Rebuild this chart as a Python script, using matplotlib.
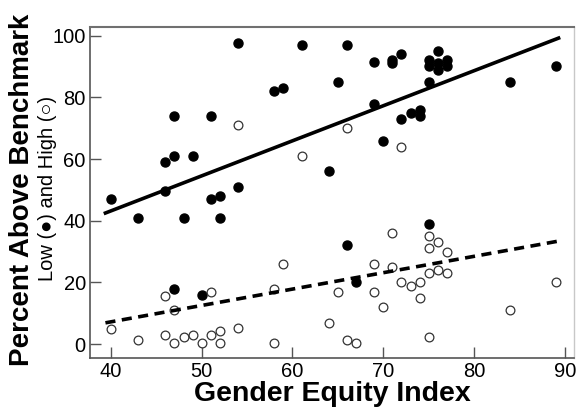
import matplotlib
matplotlib.use('Agg')
import matplotlib.pyplot as plt

# Low (filled) schools: gender equity index vs percent above benchmark
low_gei = [54, 47, 51, 46, 47, 49, 54, 40, 46, 51, 52, 43, 48, 52, 47, 50,
           61, 66, 69, 71, 71, 72, 58, 59, 65, 69, 72, 73, 74, 74, 70, 64,
           76, 75, 75, 76, 76, 77, 77, 75, 84, 89, 66, 67, 75]
low_pct = [97.5, 74, 74, 59, 61, 61, 51, 47, 49.5, 47, 48, 41, 41, 41, 18, 16,
           97, 97, 91.5, 92, 91, 94, 82, 83, 85, 78, 73, 75, 76, 74, 66, 56,
           95, 92, 90, 91, 89, 92, 90, 85, 85, 90, 32, 20, 39]

# High (open) schools
high_gei = [54, 66, 72, 61, 46, 51, 47, 40, 43, 46, 47, 48, 49, 50, 51, 52,
            52, 54, 58, 58, 59, 65, 64, 66, 67, 69, 69, 70, 71, 71, 72, 73,
            74, 74, 75, 75, 76, 77, 75, 76, 77, 75, 84, 89]
high_pct = [71, 70, 64, 61, 15.5, 17, 11, 5, 1.3, 3, 0.4, 2.4, 3, 0.4, 3, 4.3,
            0.4, 5.3, 0.4, 18, 26, 17, 7, 1.3, 0.4, 26, 17, 12, 36, 25, 20, 19,
            20, 15, 35, 31, 33, 30, 23, 24, 23, 2.4, 11, 20]

# fitted trend lines (endpoints)
fit_x = [39.4, 89.3]
low_fit = [42.5, 99.2]
high_fit = [6.9, 33.4]

FONT = ['Liberation Sans', 'DejaVu Sans']
plt.rcParams['font.family'] = FONT

fig = plt.figure(figsize=(5.77, 4.13), dpi=100)
ax = fig.add_axes([90 / 577, 1 - 358 / 413, (574 - 90) / 577, (358 - 27) / 413])

ax.plot(low_gei, low_pct, 'o', color='black', markersize=6.5, zorder=3)
ax.plot(high_gei, high_pct, 'o', markerfacecolor='white', markeredgecolor='#333333',
        markeredgewidth=0.9, markersize=6.3, zorder=3)
ax.plot(fit_x, low_fit, '-', color='black', linewidth=2.6, zorder=4)
ax.plot(fit_x, high_fit, '--', color='black', linewidth=2.6, dashes=(2.8, 1.8), zorder=4)

ax.set_xlim(37.7, 91.0)
ax.set_ylim(-4.5, 102.8)
ax.set_xticks([40, 50, 60, 70, 80, 90])
ax.set_yticks([0, 20, 40, 60, 80, 100])
ax.tick_params(direction='in', length=8, width=1, color='#555555',
               labelsize=14.5, pad=3)

for side in ['left', 'bottom']:
    ax.spines[side].set_color('#555555')
    ax.spines[side].set_linewidth(1.2)
ax.spines['top'].set_color('#707070')
ax.spines['top'].set_linewidth(1.5)
ax.spines['right'].set_color('#c8c8c8')
ax.spines['right'].set_linewidth(1)

ax.set_xlabel('Gender Equity Index', fontsize=20.5, fontweight='bold', labelpad=0)

fig.text(22 / 577, 1 - 190 / 413, 'Percent Above Benchmark', rotation=90,
         fontsize=20, fontweight='bold', ha='center', va='center')
fig.text(48 / 577, 1 - 188 / 413, 'Low (\u25cf) and High (\u25cb)', rotation=90,
         fontsize=14.5, ha='center', va='center', family=FONT)

fig.savefig('out.png', dpi=100)
